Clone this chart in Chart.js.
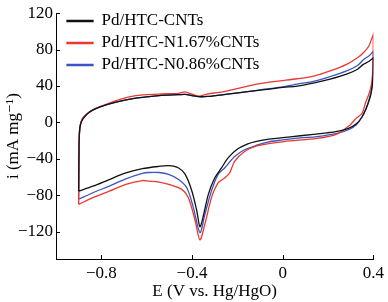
<!DOCTYPE html>
<html>
<head>
<meta charset="utf-8">
<script src="https://cdn.jsdelivr.net/npm/chart.js@4/dist/chart.umd.min.js"></script>
<style>
  html, body { margin: 0; padding: 0; background: #fff; }
  #wrap { width: 388px; height: 302px; }
</style>
</head>
<body>
<div id="wrap"><canvas id="cvChart"></canvas></div>
<script>
// Potential (V vs. Hg/HgO) and current (mA mg-1), each loop: forward scan then reverse scan
const blackE = [-0.9, -0.899, -0.897, -0.892, -0.881, -0.852, -0.808, -0.735, -0.648, -0.546, -0.46, -0.43, -0.4, -0.37, -0.33, -0.241, -0.154, -0.08, 0, 0.064, 0.14, 0.209, 0.282, 0.33, 0.356, 0.38, 0.4,
  0.4, 0.399, 0.396, 0.39, 0.381, 0.368, 0.35, 0.325, 0.29, 0.24, 0.195, 0.078, -0.01, -0.067, -0.12, -0.154, -0.198, -0.241, -0.27, -0.3, -0.328, -0.35, -0.365, -0.379, -0.401, -0.43, -0.459, -0.503, -0.546, -0.619, -0.692, -0.765, -0.837, -0.9];
const blackI = [-75.4, -40, -12, -2, 4, 11.4, 16.8, 22.2, 26.6, 29.5, 30.5, 30.8, 29.5, 28.3, 28.6, 31.2, 33.8, 36, 38.5, 40, 43.5, 47.5, 53, 58.5, 63.8, 67, 71,
  71, 55, 42, 32, 24, 15, 6, -1.5, -6.5, -9.8, -11.4, -14.6, -17, -18.6, -21, -23.5, -29, -39, -50, -61, -79, -102.5, -114.5, -97, -75, -57, -50, -47.5, -48.3, -50.8, -55.5, -62.7, -70, -75.4];

const redE = [-0.9, -0.899, -0.897, -0.892, -0.882, -0.852, -0.808, -0.735, -0.648, -0.546, -0.46, -0.43, -0.4, -0.37, -0.33, -0.28, -0.24, -0.154, -0.08, -0.01, 0.064, 0.138, 0.209, 0.282, 0.33, 0.356, 0.38, 0.4,
  0.4, 0.399, 0.396, 0.39, 0.38, 0.366, 0.35, 0.326, 0.296, 0.239, 0.151, 0.006, -0.11, -0.168, -0.212, -0.234, -0.256, -0.285, -0.314, -0.343, -0.365, -0.386, -0.416, -0.445, -0.503, -0.546, -0.59, -0.619, -0.692, -0.765, -0.837, -0.9];
const redI = [-90, -50, -15, -3, 5, 11.4, 17, 24, 29.5, 31.2, 32, 33.5, 31, 28.8, 31.5, 33, 35, 40, 43.5, 45.7, 48, 51, 56.6, 63.8, 71, 76.5, 84, 97,
  97, 72, 52, 40, 31, 22, 10, 5, -3, -12.8, -17.6, -21, -25.5, -32, -42.8, -55.5, -61, -66.4, -82.6, -111.5, -129, -108, -82.6, -73.5, -68, -65.5, -64.5, -63.8, -68, -75.4, -82.6, -90];

const blueE = [-0.9, -0.899, -0.897, -0.892, -0.881, -0.852, -0.808, -0.735, -0.648, -0.546, -0.46, -0.43, -0.4, -0.37, -0.33, -0.241, -0.154, -0.08, 0, 0.064, 0.14, 0.209, 0.282, 0.33, 0.356, 0.38, 0.4,
  0.4, 0.399, 0.396, 0.39, 0.381, 0.368, 0.35, 0.325, 0.29, 0.24, 0.151, 0.078, -0.01, -0.067, -0.11, -0.168, -0.212, -0.256, -0.285, -0.314, -0.343, -0.365, -0.394, -0.423, -0.459, -0.503, -0.546, -0.59, -0.619, -0.692, -0.765, -0.837, -0.9];
const blueI = [-84.4, -45, -13, -2, 4.5, 11.6, 17, 22.4, 26.6, 29.5, 30.5, 30.8, 29.5, 28.3, 28.6, 31.2, 33.8, 36.5, 39, 42, 45.5, 50.4, 56.6, 62.5, 69, 73, 78,
  78, 60, 45, 34, 25, 15.5, 6, -2.5, -8, -12, -15.5, -17, -19.5, -21.5, -24.7, -30, -37.4, -50, -57, -75, -100.6, -121, -93.5, -71.8, -62.7, -57, -55, -55, -56, -62, -70, -77.2, -84.4];

const seriesNames = ["Pd/HTC-CNTs", "Pd/HTC-N1.67%CNTs", "Pd/HTC-N0.86%CNTs"];
const xTicks = [-0.8, -0.4, 0, 0.4];
const yTicks = [-120, -80, -40, 0, 40, 80, 120];

function toPoints(es, is) {
  return es.map((e, i) => ({ x: e, y: is[i] }));
}

const serif = "'Liberation Serif', 'DejaVu Serif', serif";

// tick marks pointing into the plot
const innerTicks = {
  id: "innerTicks",
  afterDatasetsDraw(chart) {
    const { ctx, scales: { x, y } } = chart;
    ctx.save();
    ctx.strokeStyle = "#000";
    ctx.lineWidth = 1;
    ctx.beginPath();
    x.ticks.forEach((t) => {
      const px = Math.round(x.getPixelForValue(t.value)) + 0.5;
      ctx.moveTo(px, x.top);
      ctx.lineTo(px, x.top - 4);
    });
    y.ticks.forEach((t) => {
      const py = Math.round(y.getPixelForValue(t.value)) + 0.5;
      ctx.moveTo(y.right, py);
      ctx.lineTo(y.right + 4, py);
    });
    ctx.stroke();
    ctx.restore();
  }
};

// nudge the legend inside the plot
const legendNudge = {
  id: "legendNudge",
  afterLayout(chart) {
    if (chart.legend) {
      chart.legend.left += 6;
      chart.legend.top += 7.5;
    }
  }
};

const colors = ["#111111", "#e8382f", "#3a56c2"];

new Chart(document.getElementById("cvChart"), {
  type: "line",
  data: {
    datasets: [
      { label: seriesNames[0], data: toPoints(blackE, blackI), borderColor: colors[0], backgroundColor: colors[0] },
      { label: seriesNames[1], data: toPoints(redE, redI), borderColor: colors[1], backgroundColor: colors[1] },
      { label: seriesNames[2], data: toPoints(blueE, blueI), borderColor: colors[2], backgroundColor: colors[2] }
    ]
  },
  options: {
    responsive: true,
    maintainAspectRatio: false,
    animation: false,
    elements: {
      point: { radius: 0 },
      line: { borderWidth: 1.3, tension: 0.3, fill: false }
    },
    layout: { padding: { top: 10, right: 11, left: 0, bottom: 0 } },
    plugins: {
      legend: {
        position: "chartArea",
        align: "start",
        labels: {
          boxWidth: 26,
          boxHeight: 1,
          padding: 5,
          color: "#000",
          font: { family: serif, size: 17 }
        }
      },
      tooltip: { enabled: false }
    },
    scales: {
      x: {
        type: "linear",
        min: -1.0,
        max: 0.4,
        afterBuildTicks: (scale) => { scale.ticks = xTicks.map((v) => ({ value: v })); },
        afterFit: (scale) => { scale.height = 43; },
        grid: { display: false, drawTicks: false },
        border: { display: true, color: "#000", width: 1 },
        ticks: {
          padding: 4,
          color: "#000",
          font: { family: serif, size: 17 },
          callback: (v) => String(v).replace("-", "\u2212")
        },
        title: {
          display: true,
          text: "E (V vs. Hg/HgO)",
          color: "#000",
          font: { family: serif, size: 17 },
          padding: { top: 0, bottom: 0 }
        }
      },
      y: {
        type: "linear",
        min: -150,
        max: 120,
        afterBuildTicks: (scale) => { scale.ticks = yTicks.map((v) => ({ value: v })); },
        afterFit: (scale) => { scale.width = 56; },
        grid: { display: false, drawTicks: false },
        border: { display: true, color: "#000", width: 1 },
        ticks: {
          padding: 3,
          color: "#000",
          font: { family: serif, size: 17 },
          callback: (v) => String(v).replace("-", "\u2212")
        },
        title: {
          display: true,
          text: "i (mA mg\u207B\u00B9)",
          color: "#000",
          font: { family: serif, size: 17 },
          padding: { top: 3, bottom: 0 }
        }
      }
    }
  },
  plugins: [innerTicks, legendNudge]
});
</script>
</body>
</html>
